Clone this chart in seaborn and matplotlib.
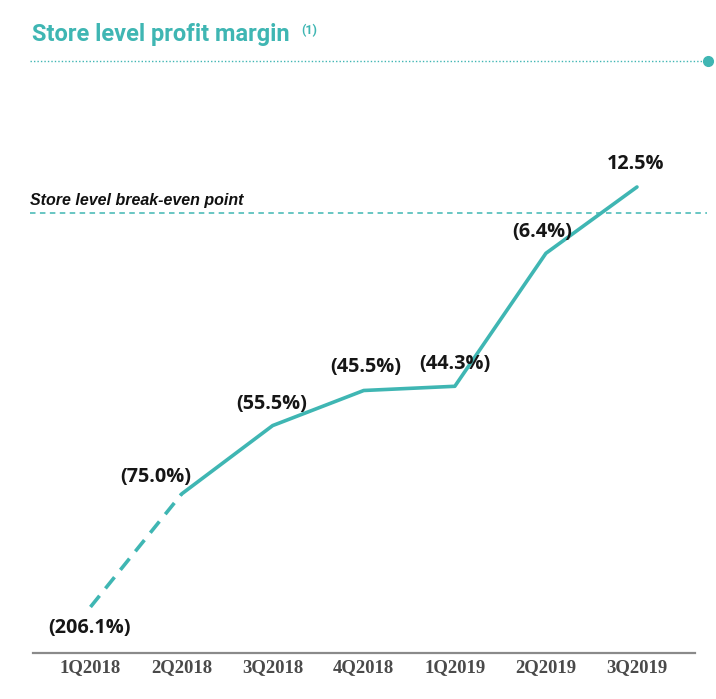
import numpy as np
import pandas as pd
import matplotlib
matplotlib.use("Agg")
import matplotlib.pyplot as plt
from matplotlib import font_manager
from matplotlib.lines import Line2D
import seaborn as sns

# data
quarters = ["1Q2018", "2Q2018", "3Q2018", "4Q2018", "1Q2019", "2Q2019", "3Q2019"]
margin = [-206.1, -75.0, -55.5, -45.5, -44.3, -6.4, 12.5]
labels = ["(206.1%)", "(75.0%)", "(55.5%)", "(45.5%)", "(44.3%)", "(6.4%)", "12.5%"]

TEAL = "#3fb6b3"
BREAK = -75.0      # below this the axis is compressed (broken axis in the original)
K = 0.2456


def pick_font(cands):
    for c in cands:
        try:
            font_manager.findfont(font_manager.FontProperties(family=c), fallback_to_default=False)
            return c
        except Exception:
            continue
    return "DejaVu Sans"


def fwd(y):
    y = np.asarray(y, dtype=float)
    return np.where(y >= BREAK, y, BREAK + (y - BREAK) * K)


def inv(t):
    t = np.asarray(t, dtype=float)
    return np.where(t >= BREAK, t, BREAK + (t - BREAK) / K)


sns.set_style("white")
title_font = pick_font(["Liberation Sans Narrow", "Roboto", "DejaVu Sans"])
label_font = pick_font(["Open Sans", "Lato", "DejaVu Sans"])
tick_font = pick_font(["Liberation Serif", "DejaVu Serif"])
note_font = pick_font(["Liberation Sans", "DejaVu Sans"])

df = pd.DataFrame({"x": np.arange(len(quarters)), "q": quarters, "m": margin})

fig = plt.figure(figsize=(7.16, 6.99), dpi=100)
ax = fig.add_axes([33 / 716, 46 / 699, 662 / 716, 653 / 699])
ax.set_yscale("function", functions=(fwd, inv))

# dashed first segment, solid afterwards
sns.lineplot(data=df.iloc[0:2], x="x", y="m", ax=ax, color=TEAL, lw=2.6,
             linestyle=(0, (4, 2.6)), solid_capstyle="butt")
sns.lineplot(data=df.iloc[1:], x="x", y="m", ax=ax, color=TEAL, lw=2.6)

offsets = [(-0.7, -15), (-18.7, 12.2), (-0.7, 15.8), (1.4, 16.6), (0, 15.8), (-2.9, 15.1), (-0.7, 16.6)]
for i, (lab, off) in enumerate(zip(labels, offsets)):
    ax.annotate(lab, (i, margin[i]), xytext=off, textcoords="offset points",
                ha="center", va="center", fontsize=14.3, fontweight="bold",
                family=label_font, color="#161616")

ax.set_xlim(-0.631, 6.637)
ax.set_ylim(-259.5, 65.79)
ax.set_xticks(range(len(quarters)))
ax.set_xticklabels(quarters, family=tick_font, fontsize=13.5, fontweight="bold", color="#4a4a4a")
ax.tick_params(axis="x", length=0, pad=4)
ax.set_yticks([])
ax.set_xlabel("")
ax.set_ylabel("")
for s in ["top", "left", "right"]:
    ax.spines[s].set_visible(False)
ax.spines["bottom"].set_color("#8a8a8a")
ax.spines["bottom"].set_linewidth(1.6)

# title and decorations (figure pixel positions)
fig.text(32 / 716, 1 - 41 / 699, "Store level profit margin", family=title_font,
         fontsize=17, fontweight="bold", color=TEAL, va="baseline")
fig.text(301 / 716, 1 - 34 / 699, "(1)", family=title_font, fontsize=9,
         fontweight="bold", color=TEAL, va="baseline")
fig.add_artist(Line2D([30 / 716, 706 / 716], [1 - 61 / 699] * 2, transform=fig.transFigure,
                      color=TEAL, lw=1, linestyle=(0, (1, 1.5))))
fig.add_artist(Line2D([708 / 716], [1 - 61 / 699], transform=fig.transFigure,
                      color=TEAL, marker="o", ms=7, lw=0))

fig.text(30 / 716, 1 - 200 / 699, "Store level break-even point", family=note_font,
         fontsize=11.5, fontweight="bold", style="italic", color="#111111", va="center")
fig.add_artist(Line2D([30 / 716, 707 / 716], [1 - 212.7 / 699] * 2, transform=fig.transFigure,
                      color=TEAL, lw=1.1, linestyle=(0, (3.6, 2.9))))

fig.savefig("out.png", dpi=100, facecolor="white")
